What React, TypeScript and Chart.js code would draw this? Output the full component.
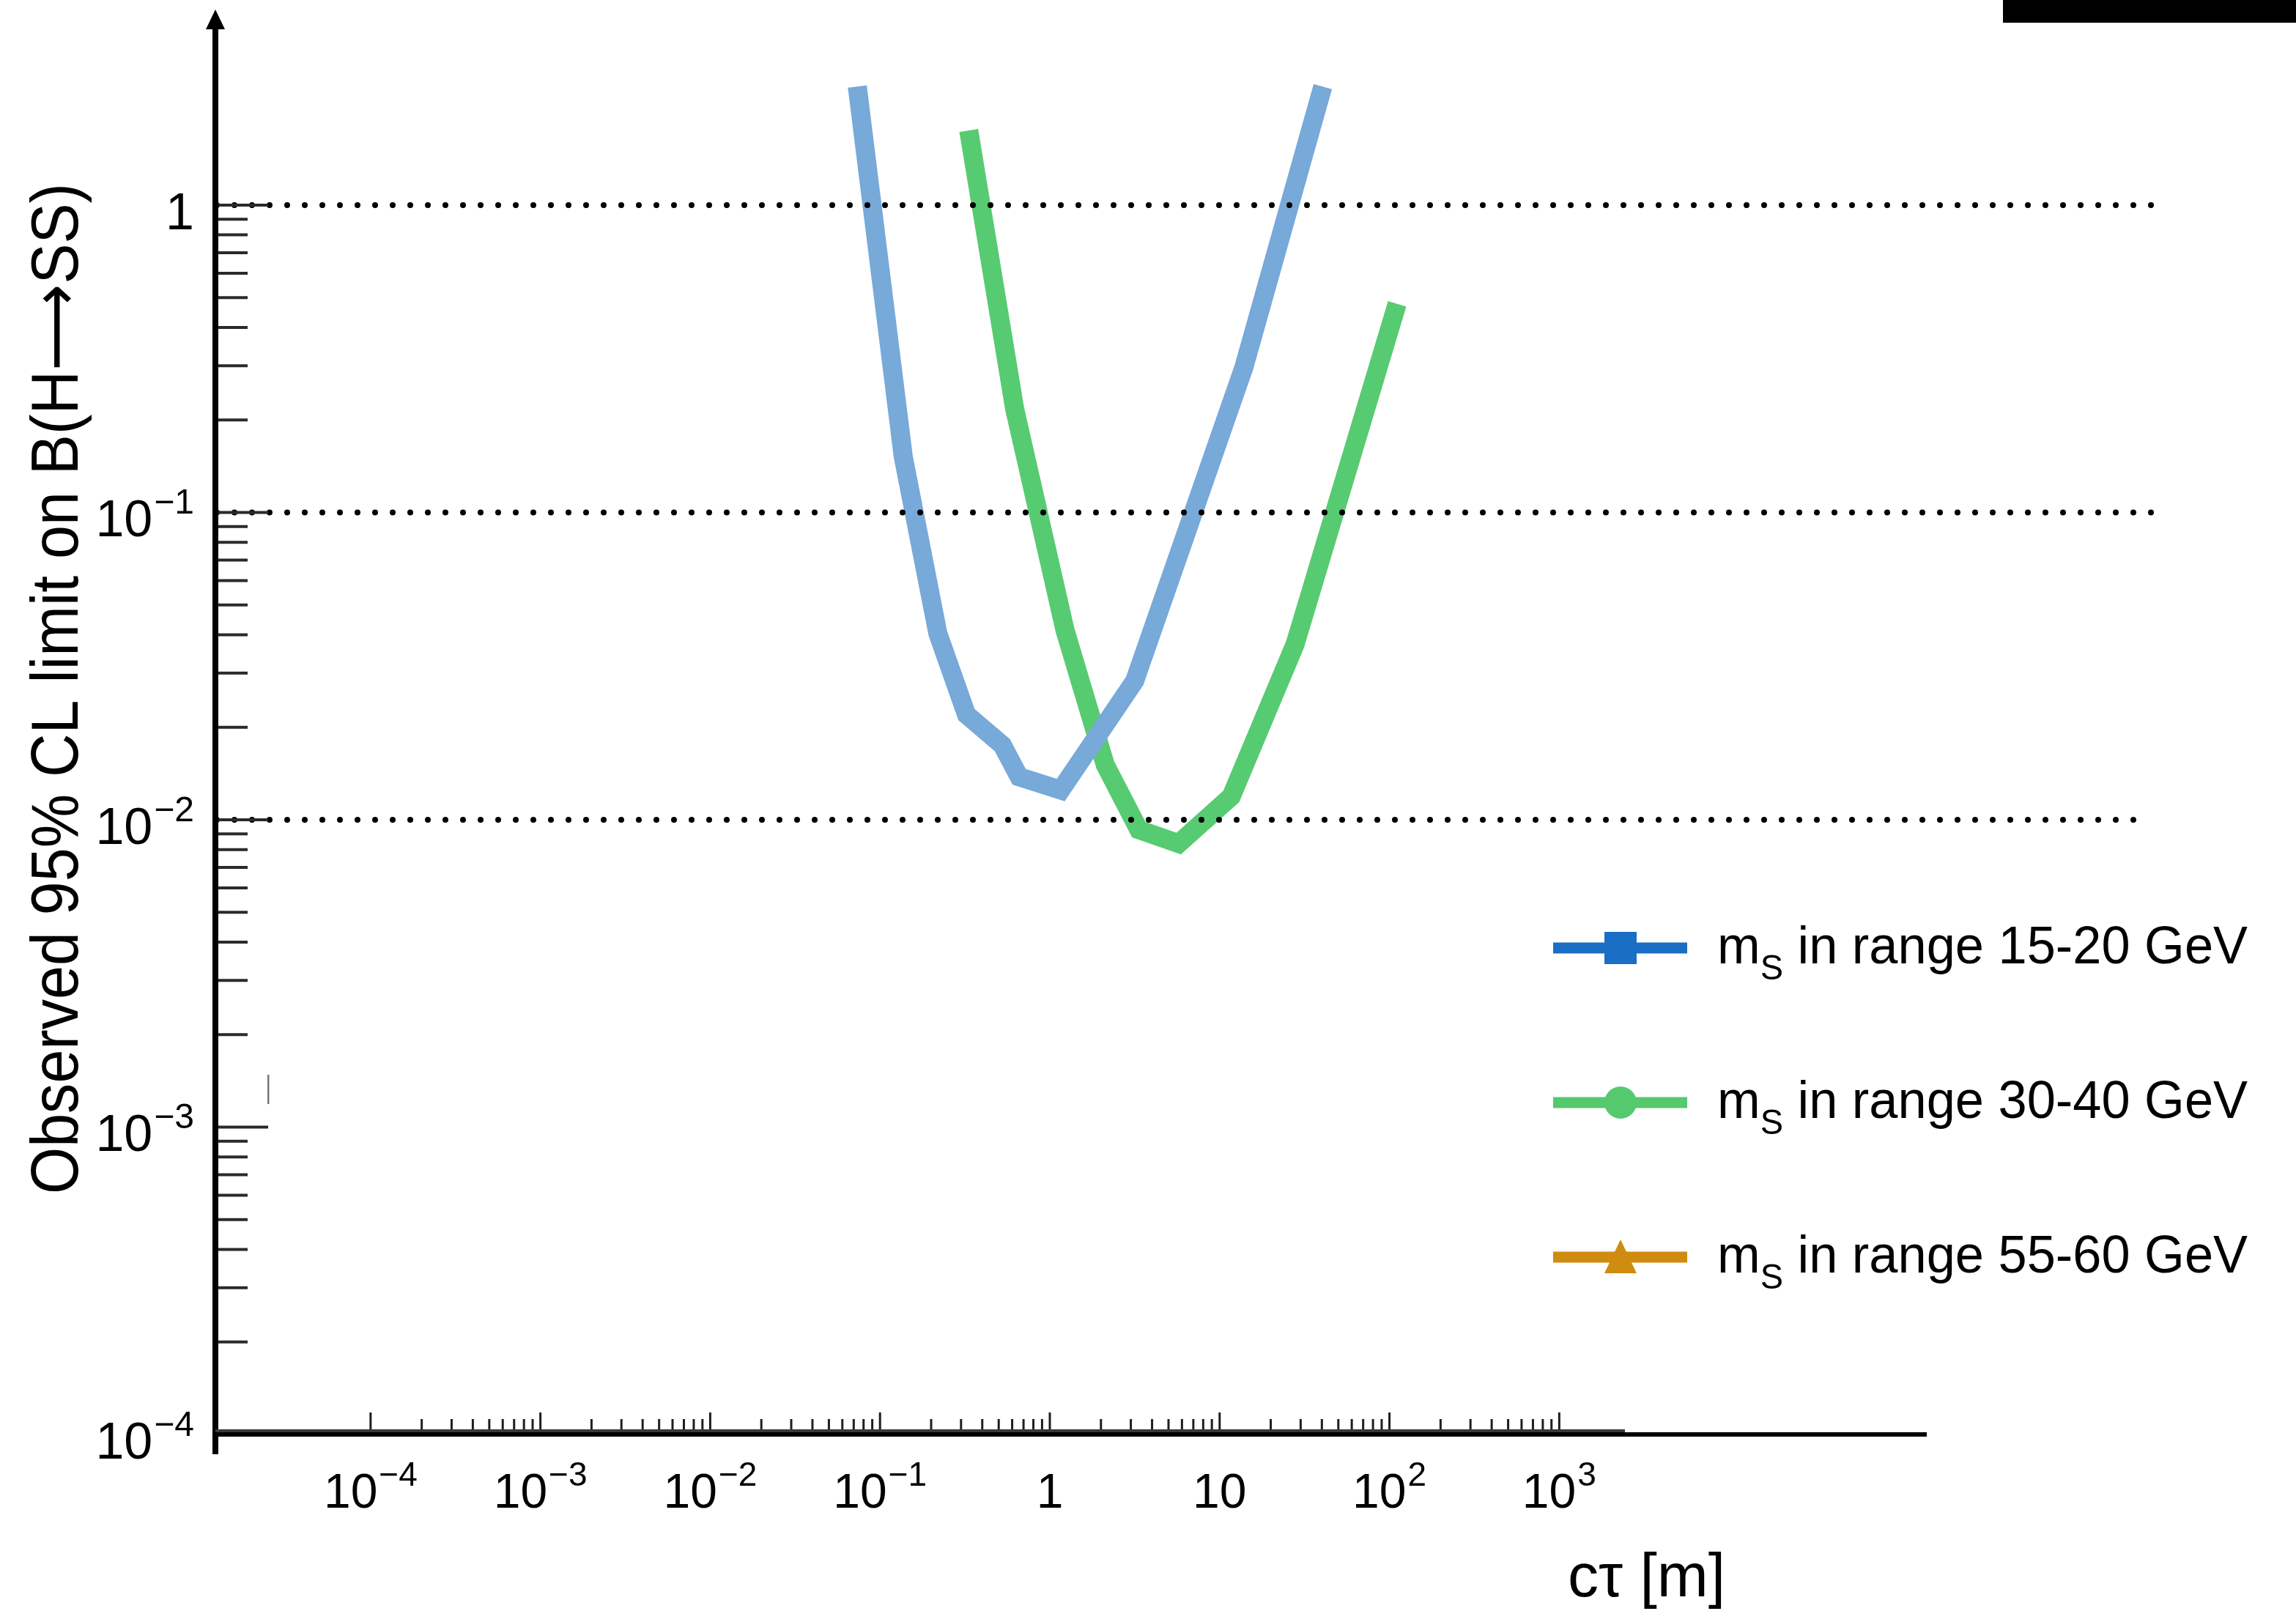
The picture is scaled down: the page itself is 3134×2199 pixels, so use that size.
import React, { useEffect, useRef } from "react";
import { Chart, registerables } from "chart.js";

Chart.register(...registerables);

// ---------- data ----------
const blueCtau = [0.0735, 0.137, 0.219, 0.323, 0.525, 0.659, 1.16, 3.16, 13.9, 40.5];
const blueLimit = [2.43, 0.152, 0.0404, 0.022, 0.0175, 0.0138, 0.0125, 0.0283, 0.297, 2.43];

const greenCtau = [0.333, 0.621, 1.23, 2.12, 3.34, 5.74, 11.7, 27.8, 111];
const greenLimit = [1.75, 0.217, 0.0413, 0.0151, 0.00929, 0.00837, 0.0119, 0.0372, 0.477];

const orangeCtau: number[] = [];
const orangeLimit: number[] = [];

const massRanges = ["15-20", "30-40", "55-60"];
const xTickExponents = [-4, -3, -2, -1, 0, 1, 2, 3];
const yTickExponents = [0, -1, -2, -3, -4];
const dottedLevels = [1, 0.1, 0.01];

const xTitle = "c\u03C4 [m]";
const yTitleParts = ["Observed 95% CL limit on B(H", "\u27F6", "SS)"];

// ---------- styles ----------
const W = 3134;
const H = 2199;
const FONT = '"Liberation Sans", Arial, Helvetica, sans-serif';
const ARROW_FONT = '"DejaVu Sans", "Liberation Sans", sans-serif';
const lineColors = ["#77a9d9", "#57cb71", "#d99a2b"];
const legendColors = ["#1a6fc4", "#55c96e", "#d08c10"];

function powLabel(exp: number) {
  if (exp === 0) return { base: "1", sup: "" };
  if (exp === 1) return { base: "10", sup: "" };
  return { base: "10", sup: exp < 0 ? "\u2212" + String(-exp) : String(exp) };
}

function drawPow(
  ctx: CanvasRenderingContext2D,
  exp: number,
  x: number,
  baseY: number,
  align: "center" | "right",
  baseSize: number,
  supSize: number,
  supRise: number
) {
  const { base, sup } = powLabel(exp);
  ctx.font = `${baseSize}px ${FONT}`;
  const bw = ctx.measureText(base).width;
  ctx.font = `${supSize}px ${FONT}`;
  const sw = sup ? ctx.measureText(sup).width + 2 : 0;
  const total = bw + sw;
  const left = align === "center" ? x - total / 2 : x - total;
  ctx.textAlign = "left";
  ctx.textBaseline = "alphabetic";
  ctx.font = `${baseSize}px ${FONT}`;
  ctx.fillText(base, left, baseY);
  if (sup) {
    ctx.font = `${supSize}px ${FONT}`;
    ctx.fillText(sup, left + bw + 2, baseY - supRise);
  }
}

const decorPlugin = {
  id: "decor",
  afterDatasetsDraw(chart: any) {
    const ctx: CanvasRenderingContext2D = chart.ctx;
    const xs = chart.scales.x;
    const ys = chart.scales.y;
    ctx.save();

    // dotted reference lines
    ctx.strokeStyle = "#000";
    ctx.lineWidth = 8;
    ctx.lineCap = "round";
    ctx.setLineDash([0, 24]);
    dottedLevels.forEach((lv, i) => {
      const py = ys.getPixelForValue(lv);
      ctx.beginPath();
      ctx.moveTo(296, py);
      ctx.lineTo(i === 2 ? 2920 : 2946, py);
      ctx.stroke();
    });
    ctx.setLineDash([]);
    ctx.lineCap = "butt";

    // y axis ticks (inward)
    ctx.strokeStyle = "#2a2a2a";
    ctx.lineWidth = 4;
    for (let e = -4; e <= 0; e++) {
      for (let m = 1; m <= 9; m++) {
        if (e === 0 && m > 1) break;
        if (e === -4 && m === 1) continue;
        const py = ys.getPixelForValue(m * Math.pow(10, e));
        ctx.beginPath();
        ctx.moveTo(294, py);
        ctx.lineTo(m === 1 ? 366 : 338, py);
        ctx.stroke();
      }
    }

    // x axis ticks (inward)
    ctx.strokeStyle = "#1e1e1e";
    ctx.lineWidth = 3;
    for (let e = -4; e <= 3; e++) {
      for (let m = 1; m <= 9; m++) {
        if (e === 3 && m > 1) break;
        const px = xs.getPixelForValue(m * Math.pow(10, e));
        ctx.beginPath();
        ctx.moveTo(px, 1953);
        ctx.lineTo(px, m === 1 ? 1928 : 1937);
        ctx.stroke();
      }
    }

    // axes
    ctx.fillStyle = "#000";
    ctx.fillRect(290, 36, 8, 1985 - 36);
    ctx.beginPath();
    ctx.moveTo(294, 13);
    ctx.lineTo(281, 40);
    ctx.lineTo(307, 40);
    ctx.closePath();
    ctx.fill();
    ctx.fillRect(290, 1955, 2340, 6);
    ctx.fillStyle = "#3a3a3a";
    ctx.fillRect(294, 1951, 1924, 4);

    // stray mark
    ctx.fillStyle = "#777";
    ctx.fillRect(365, 1467, 2.5, 40);

    // black box top right
    ctx.fillStyle = "#000";
    ctx.fillRect(2734, 0, 400, 31);

    // tick labels
    ctx.fillStyle = "#000";
    xTickExponents.forEach((e) => {
      const px = xs.getPixelForValue(Math.pow(10, e));
      drawPow(ctx, e, px, 2058, "center", 66, 46, 30);
    });
    yTickExponents.forEach((e) => {
      const py = ys.getPixelForValue(Math.pow(10, e));
      drawPow(ctx, e, 265, py + 33, "right", 70, 48, 31);
    });

    // axis titles
    ctx.font = `84px ${FONT}`;
    ctx.textAlign = "left";
    ctx.fillText(xTitle, 2140, 2179);

    ctx.save();
    ctx.translate(106, 940);
    ctx.rotate(-Math.PI / 2);
    const fonts = [`90px ${FONT}`, `90px ${ARROW_FONT}`, `90px ${FONT}`];
    const widths = yTitleParts.map((p, i) => {
      ctx.font = fonts[i];
      return ctx.measureText(p).width;
    });
    const tw = widths.reduce((a, b) => a + b, 0);
    ctx.scale(1380 / tw, 1);
    ctx.textAlign = "left";
    let cx0 = -tw / 2;
    yTitleParts.forEach((p, i) => {
      ctx.font = fonts[i];
      ctx.fillText(p, cx0, 0);
      cx0 += widths[i];
    });
    ctx.restore();

    // legend
    chart.data.datasets.forEach((_ds: any, i: number) => {
      const cy = 1294 + i * 211;
      const col = legendColors[i];
      ctx.fillStyle = col;
      ctx.fillRect(2120, cy - 7.5, 183, 15);
      const cx = 2212;
      ctx.beginPath();
      if (i === 0) {
        ctx.rect(cx - 22, cy - 22, 44, 44);
      } else if (i === 1) {
        ctx.arc(cx, cy, 22, 0, Math.PI * 2);
      } else {
        ctx.moveTo(cx, cy - 24);
        ctx.lineTo(cx + 22, cy + 22);
        ctx.lineTo(cx - 22, cy + 22);
        ctx.closePath();
      }
      ctx.fill();

      const rest = ` in range ${massRanges[i]} GeV`;
      ctx.fillStyle = "#000";
      ctx.font = `72px ${FONT}`;
      const mw = ctx.measureText("m").width;
      const rw = ctx.measureText(rest).width;
      ctx.font = `48px ${FONT}`;
      const sw = ctx.measureText("S").width;
      const total = mw + sw + rw;
      const k = 724 / total;
      ctx.save();
      ctx.translate(2344, cy + 21);
      ctx.scale(k, 1);
      ctx.textAlign = "left";
      ctx.font = `72px ${FONT}`;
      ctx.fillText("m", 0, 0);
      ctx.font = `48px ${FONT}`;
      ctx.fillText("S", mw, 22);
      ctx.font = `72px ${FONT}`;
      ctx.fillText(rest, mw + sw, 0);
      ctx.restore();
    });

    ctx.restore();
  },
};

export default function App() {
  const canvasRef = useRef<HTMLCanvasElement | null>(null);

  useEffect(() => {
    if (!canvasRef.current) return;
    const toPts = (xs: number[], ys: number[]) => xs.map((x, i) => ({ x, y: ys[i] }));
    const common = { borderWidth: 26, pointRadius: 0, fill: false, tension: 0 };
    const chart = new Chart(canvasRef.current, {
      type: "line",
      data: {
        datasets: [
          {
            label: "m_S in range 15-20 GeV",
            data: toPts(blueCtau, blueLimit),
            borderColor: lineColors[0],
            backgroundColor: lineColors[0],
            ...common,
          },
          {
            label: "m_S in range 30-40 GeV",
            data: toPts(greenCtau, greenLimit),
            borderColor: lineColors[1],
            backgroundColor: lineColors[1],
            ...common,
          },
          {
            label: "m_S in range 55-60 GeV",
            data: toPts(orangeCtau, orangeLimit),
            borderColor: lineColors[2],
            backgroundColor: lineColors[2],
            ...common,
          },
        ],
      },
      options: {
        responsive: false,
        animation: false,
        events: [],
        layout: { padding: { left: 294, right: W - 2626, top: 14, bottom: H - 1958 } },
        plugins: { legend: { display: false }, tooltip: { enabled: false } },
        scales: {
          x: {
            type: "logarithmic",
            display: false,
            min: Math.pow(10, -4.914),
            max: Math.pow(10, 5.147),
          },
          y: {
            type: "logarithmic",
            display: false,
            min: 1e-4,
            max: Math.pow(10, 0.634),
          },
        },
      },
      plugins: [decorPlugin],
    });
    return () => chart.destroy();
  }, []);

  return (
    <div style={{ position: "absolute", left: 0, top: 0, width: W, height: H, background: "#fff" }}>
      <canvas ref={canvasRef} width={W} height={H} style={{ display: "block" }} />
    </div>
  );
}
